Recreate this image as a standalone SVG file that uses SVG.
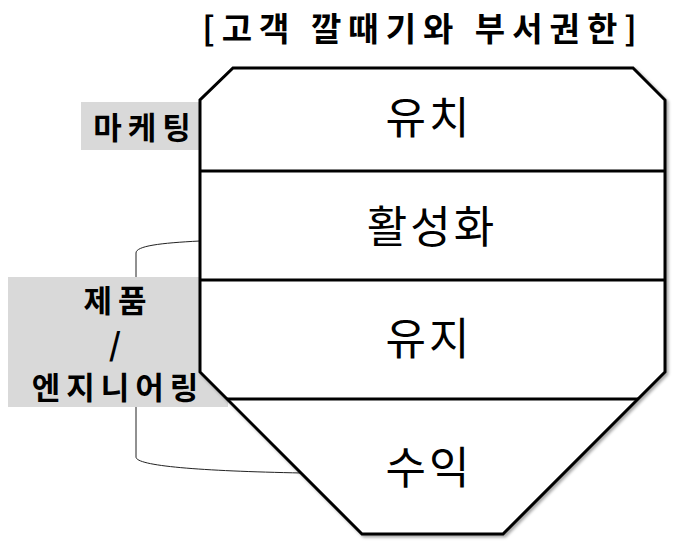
<svg xmlns="http://www.w3.org/2000/svg" width="675" height="545" viewBox="0 0 675 545">
<style>
text{font-family:"Noto Sans CJK KR","Noto Sans",sans-serif;fill:#000}
.b{font-weight:bold}
.stage{font-size:44px;text-anchor:middle;letter-spacing:3px}
.lbl{font-size:31px;font-weight:bold;text-anchor:middle;letter-spacing:6px}
.bk{fill:none;stroke:#222;stroke-width:1}
.box{fill:#d9d9d9}
</style>
<defs>
<filter id="sh" x="-5%" y="-5%" width="112%" height="112%"><feDropShadow dx="2" dy="2" stdDeviation="1.5" flood-color="#000" flood-opacity="0.35"/></filter>
</defs>
<rect width="675" height="545" fill="#fff"/>
<text x="423" y="41" class="b" font-size="33" text-anchor="middle" letter-spacing="7">[고객 깔때기와 부서권한]</text>
<g id="labels">
<g id="marketing"><rect class="box" x="81" y="102" width="119" height="48"/><text class="lbl" x="145" y="139" letter-spacing="4">마케팅</text></g>
<g id="product"><rect class="box" x="8" y="277" width="220" height="130"/>
<text class="lbl" x="118" y="312">제품</text><text class="lbl" x="118" y="356" font-size="26">/</text><text class="lbl" x="118" y="399" font-size="30" letter-spacing="7">엔지니어링</text></g>
</g>
<g id="connectors">
<path class="bk" d="M200,241 C160,243 136,246 136,253 L136,277"/>
<path class="bk" d="M136,407 L136,457 C136,466 200,471 302,473"/>
</g>
<g id="funnel">
<polygon points="233,68 633,68 665,100 665,372 503,534 362,534 200,372 200,100" fill="#fff" stroke="#000" stroke-width="3" stroke-linejoin="miter" filter="url(#sh)"/>
<line x1="200" y1="171" x2="665" y2="171" stroke="#000" stroke-width="3"/>
<line x1="200" y1="280" x2="665" y2="280" stroke="#000" stroke-width="3"/>
<line x1="227" y1="399" x2="638" y2="399" stroke="#000" stroke-width="3"/>
</g>
<g id="stages">
<g id="s1"><text class="stage" x="429" y="134">유치</text></g>
<g id="s2"><text class="stage" x="432" y="243">활성화</text></g>
<g id="s3"><text class="stage" x="429" y="355">유지</text></g>
<g id="s4"><text class="stage" x="429" y="484">수익</text></g>
</g>
</svg>
